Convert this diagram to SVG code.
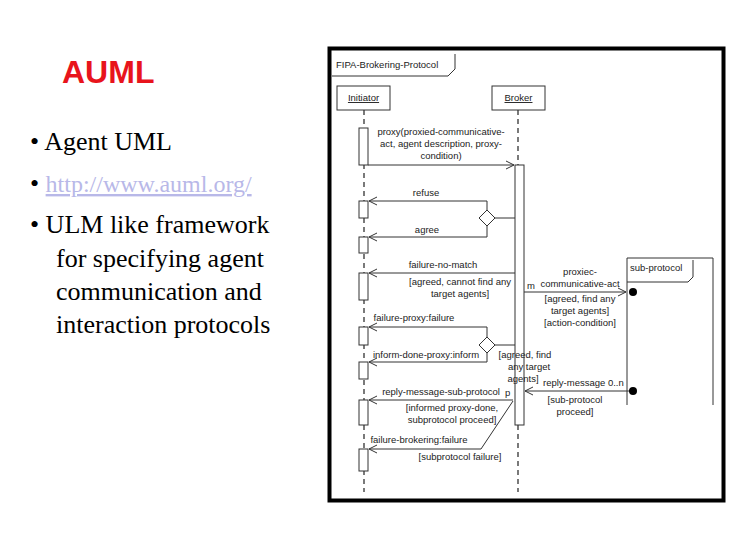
<svg xmlns="http://www.w3.org/2000/svg" width="756" height="540" viewBox="0 0 756 540">
<style>
.s{font-family:"Liberation Sans",Arial,sans-serif;font-size:9.5px;fill:#222}
.ln{stroke:#333;stroke-width:1;fill:none}
.dl{stroke:#333;stroke-width:1.3;stroke-dasharray:5,4;fill:none}
.act{fill:#fff;stroke:#333;stroke-width:1}
</style>
<defs>
<marker id="oa" markerWidth="10" markerHeight="10" refX="9" refY="5" orient="auto" markerUnits="userSpaceOnUse"><path d="M1,1 L9,5 L1,9" fill="none" stroke="#333"/></marker>
</defs>
<rect width="756" height="540" fill="#fff"/>
<text x="62" y="83" font-family="Liberation Sans,Arial,sans-serif" font-size="32" font-weight="bold" fill="#e8141c">AUML</text>
<g font-family="Liberation Serif, Times New Roman, serif" font-size="26" fill="#000">
<text x="30" y="150">• Agent UML</text>
<text x="30" y="192">• <tspan font-size="24" fill="#b8b8e8" text-decoration="underline">http://www.auml.org/</tspan></text>
<text x="30" y="233">• ULM like framework</text>
<text x="56" y="267">for specifying agent</text>
<text x="56" y="300">communication and</text>
<text x="56" y="333">interaction protocols</text>
</g>
<rect x="329.5" y="48.5" width="394" height="452" fill="#fff" stroke="#000" stroke-width="4"/>
<g id="frame">
<path class="ln" d="M332,76 H448 L455,69 V54"/>
<text x="336" y="68" class="s">FIPA-Brokering-Protocol</text>
</g>
<g id="initiator">
<rect x="337" y="86" width="53" height="24" class="act"/>
<text x="363.5" y="101" class="s" text-anchor="middle" text-decoration="underline">Initiator</text>
<line x1="364" y1="110" x2="364" y2="492" class="dl"/>
<rect x="359" y="128" width="9" height="37" class="act"/>
<rect x="359" y="201" width="9" height="17" class="act"/>
<rect x="359" y="237" width="9" height="16" class="act"/>
<rect x="359" y="273" width="9" height="27" class="act"/>
<rect x="359" y="327" width="9" height="18" class="act"/>
<rect x="359" y="362" width="9" height="17" class="act"/>
<rect x="359" y="400" width="9" height="25" class="act"/>
<rect x="359" y="449" width="9" height="22" class="act"/>
</g>
<g id="broker">
<rect x="492" y="86" width="53" height="24" class="act"/>
<text x="518.5" y="101" class="s" text-anchor="middle" text-decoration="underline">Broker</text>
<line x1="518" y1="110" x2="518" y2="492" class="dl"/>
<rect x="515" y="165" width="9" height="260" class="act"/>
</g>
<g id="subprotocol">
<path class="ln" d="M627,405 V258 H713 V405 M627,282 H688 L693,277 V260"/>
<text x="630" y="271" class="s">sub-protocol</text>
</g>
<g id="connectors">
<line x1="368" y1="165" x2="514" y2="165" class="ln" marker-end="url(#oa)"/>
<text class="s" text-anchor="middle"><tspan x="441" y="135">proxy(proxied-communicative-</tspan><tspan x="441" y="147">act, agent description, proxy-</tspan><tspan x="441" y="159">condition)</tspan></text>
<path class="ln" d="M487,201 H369" marker-end="url(#oa)"/>
<text x="426" y="196" class="s" text-anchor="middle">refuse</text>
<path class="ln" d="M487,201 V210 M487,226 V237 H369" marker-end="url(#oa)"/>
<text x="427" y="233" class="s" text-anchor="middle">agree</text>
<path class="act" d="M487,210 L495,218 L487,226 L479,218 Z"/>
<line x1="495" y1="218" x2="515" y2="218" class="ln"/>
<path class="ln" d="M515,273 H369" marker-end="url(#oa)"/>
<text x="443" y="268" class="s" text-anchor="middle">failure-no-match</text>
<text class="s" text-anchor="middle"><tspan x="460" y="285">[agreed, cannot find any</tspan><tspan x="460" y="297">target agents]</tspan></text>
<line x1="524" y1="292" x2="626" y2="292" class="ln" marker-end="url(#oa)"/>
<circle cx="633" cy="292" r="4" fill="#000"/>
<text x="527" y="289" class="s">m</text>
<text class="s" text-anchor="middle"><tspan x="580" y="275">proxiec-</tspan><tspan x="580" y="287">communicative-act</tspan><tspan x="580" y="302">[agreed, find any</tspan><tspan x="580" y="314">target agents]</tspan><tspan x="580" y="326">[action-condition]</tspan></text>
<path class="ln" d="M487,327 H369" marker-end="url(#oa)"/>
<text x="414" y="321" class="s" text-anchor="middle">failure-proxy:failure</text>
<path class="ln" d="M487,327 V337 M487,353 V362 H369" marker-end="url(#oa)"/>
<text x="426" y="358" class="s" text-anchor="middle">inform-done-proxy:inform</text>
<path class="act" d="M487,337 L495,345 L487,353 L479,345 Z"/>
<line x1="495" y1="345" x2="515" y2="345" class="ln"/>
<text class="s" text-anchor="middle"><tspan x="525" y="358">[agreed, find</tspan><tspan x="529" y="370">any target</tspan><tspan x="523" y="382">agents]</tspan></text>
<line x1="633" y1="391" x2="525" y2="391" class="ln" marker-end="url(#oa)"/>
<circle cx="633" cy="391" r="4" fill="#000"/>
<text x="543" y="386" class="s">reply-message  0..n</text>
<text class="s" text-anchor="middle"><tspan x="575" y="403">[sub-protocol</tspan><tspan x="575" y="415">proceed]</tspan></text>
<path class="ln" d="M513,400 H369" marker-end="url(#oa)"/>
<text x="505" y="396" class="s">p</text>
<text x="441" y="395" class="s" text-anchor="middle">reply-message-sub-protocol</text>
<text class="s" text-anchor="middle"><tspan x="452" y="411">[informed proxy-done,</tspan><tspan x="452" y="423">subprotocol proceed]</tspan></text>
<path class="ln" d="M513,401 L481,449 H369" marker-end="url(#oa)"/>
<text x="419" y="443" class="s" text-anchor="middle">failure-brokering:failure</text>
<text x="460" y="460" class="s" text-anchor="middle">[subprotocol failure]</text>
</g>
</svg>
